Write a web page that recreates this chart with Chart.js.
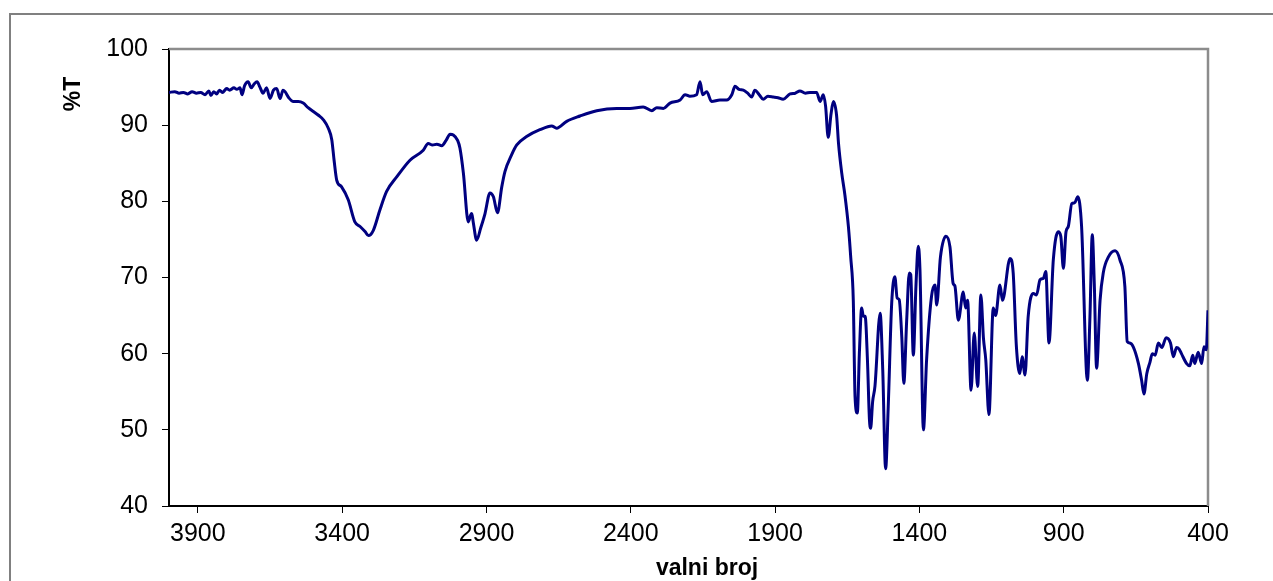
<!DOCTYPE html>
<html>
<head>
<meta charset="utf-8">
<script src="https://cdn.jsdelivr.net/npm/chart.js@4"></script>
<style>
  html, body { margin: 0; padding: 0; background: #fff; overflow: hidden; }
  #frame { position: absolute; left: 9px; top: 13px; width: 1270px; height: 600px; border: 2px solid #808080; box-sizing: border-box; }
  #wrap { position: absolute; left: 0; top: 0; width: 1273px; height: 581px; }
</style>
</head>
<body>
<div id="frame"></div>
<div id="wrap"><canvas id="ir"></canvas></div>
<script>
// wavenumber (cm-1), high to low
const wavenumbers = [
  4000, 3980, 3965, 3950, 3935, 3920, 3905, 3890, 3875, 3862, 3855, 3845, 3835, 3825, 3815,
  3800, 3790, 3775, 3765, 3754, 3747, 3738, 3726, 3715, 3705, 3695, 3685, 3674, 3662, 3650,
  3638, 3627, 3615, 3605, 3598, 3585, 3569, 3552, 3535, 3518, 3500, 3482, 3465, 3448, 3436,
  3428, 3419, 3402, 3379, 3356, 3338, 3320, 3309, 3292, 3269, 3246, 3211, 3165, 3119, 3102,
  3087, 3072, 3055, 3040, 3026, 3015, 3000, 2992, 2980, 2963, 2955, 2951, 2946, 2934, 2920,
  2905, 2888, 2876, 2862, 2847, 2836, 2813, 2795, 2761, 2715, 2674, 2657, 2622, 2576, 2518,
  2449, 2403, 2357, 2327, 2310, 2287, 2264, 2229, 2212, 2195, 2172, 2160, 2151, 2137, 2120,
  2091, 2068, 2050, 2039, 2025, 2010, 1995, 1981, 1970, 1955, 1941, 1925, 1906, 1890, 1872,
  1848, 1830, 1814, 1795, 1779, 1756, 1744, 1733, 1725, 1716, 1706, 1698, 1687, 1680, 1669,
  1658, 1646, 1638, 1629, 1623, 1615, 1608, 1600, 1594, 1588, 1580, 1573, 1569, 1562, 1554,
  1536, 1527, 1517, 1508, 1496, 1485, 1477, 1470, 1461, 1454, 1444, 1435, 1430, 1421, 1412,
  1404, 1398, 1386, 1375, 1358, 1346, 1340, 1327, 1308, 1294, 1283, 1277, 1265, 1248, 1240,
  1233, 1221, 1210, 1198, 1187, 1178, 1170, 1159, 1144, 1136, 1121, 1112, 1086, 1075, 1064,
  1052, 1044, 1034, 1023, 1005, 994, 982, 970, 962, 951, 936, 919, 910, 901, 892,
  884, 872, 862, 851, 838, 818, 809, 801, 794, 786, 774, 763, 745, 722, 705,
  688, 680, 671, 659, 641, 630, 622, 612, 601, 593, 583, 572, 560, 545, 530,
  520, 509, 500, 492, 474, 463, 453, 446, 434, 422, 414, 406, 400
];

// %T at each wavenumber
const transmittance = [
  94.3, 94.4, 94.2, 94.3, 94.1, 94.4, 94.2, 94.3, 94.0, 94.5, 93.9, 94.4, 94.1, 94.6, 94.3,
  94.8, 94.6, 94.9, 94.7, 94.9, 94.0, 95.2, 95.7, 94.9, 95.4, 95.7, 95.0, 94.2, 94.9, 93.5,
  94.6, 94.8, 93.5, 94.6, 94.4, 93.6, 93.1, 93.1, 92.9, 92.3, 91.8, 91.3, 90.7, 89.6, 88.1,
  85.4, 82.8, 81.9, 80.2, 77.3, 76.7, 76.0, 75.5, 76.2, 78.9, 81.3, 83.2, 85.4, 86.7, 87.6,
  87.4, 87.5, 87.3, 88.0, 88.8, 88.7, 88.0, 87.0, 83.7, 77.3, 78.2, 78.4, 77.3, 74.9, 76.5,
  78.4, 81.1, 80.6, 78.5, 81.9, 83.9, 86.1, 87.4, 88.5, 89.4, 89.9, 89.6, 90.5, 91.2, 91.9,
  92.2, 92.2, 92.4, 91.9, 92.3, 92.2, 92.9, 93.3, 94.0, 93.8, 94.0, 95.7, 94.0, 94.4, 93.1,
  93.3, 93.3, 94.0, 95.1, 94.7, 94.6, 94.2, 93.7, 94.6, 94.0, 93.4, 93.8, 93.7, 93.6, 93.4,
  94.1, 94.2, 94.5, 94.2, 94.3, 94.3, 93.1, 94.0, 92.5, 88.4, 91.5, 93.1, 91.3, 87.5, 83.7,
  80.8, 76.7, 72.7, 67.0, 54.4, 52.2, 60.0, 66.0, 64.9, 64.9, 59.2, 51.3, 50.2, 53.7, 55.7,
  65.3, 57.9, 44.9, 53.0, 66.6, 70.1, 67.3, 67.1, 62.2, 56.1, 64.4, 70.6, 70.4, 59.8, 68.8,
  74.1, 71.0, 50.0, 59.2, 67.5, 69.0, 66.4, 72.7, 75.4, 74.0, 69.2, 68.9, 64.4, 68.1, 66.0,
  67.0, 55.2, 62.7, 55.7, 67.7, 62.0, 59.2, 52.0, 66.0, 65.0, 69.0, 67.0, 72.5, 70.6, 61.0,
  57.4, 59.6, 57.2, 64.9, 67.9, 67.7, 69.7, 69.9, 70.8, 61.4, 72.3, 76.0, 75.4, 71.2, 76.0,
  76.7, 79.7, 79.8, 80.6, 76.7, 56.5, 64.9, 75.6, 69.2, 58.1, 67.0, 70.6, 72.7, 73.5, 72.3,
  68.8, 61.6, 61.4, 60.9, 58.7, 56.5, 54.7, 57.4, 58.9, 60.0, 59.8, 61.4, 60.8, 62.1, 61.4,
  59.6, 60.8, 60.6, 60.0, 58.7, 58.4, 59.8, 58.7, 60.2, 58.7, 60.9, 60.5, 65.7
];

const xTicks = [3900, 3400, 2900, 2400, 1900, 1400, 900, 400];
const yTicks = [40, 50, 60, 70, 80, 90, 100];

const FONT = "'Liberation Sans', Arial, sans-serif";

const points = wavenumbers.map((w, i) => ({ x: w, y: transmittance[i] }));

// gray plot-area border (top/right) and the two axis titles
const decor = {
  id: "decor",
  beforeDatasetsDraw(chart) {
    const { ctx, chartArea: a } = chart;
    ctx.save();
    ctx.strokeStyle = "#8c8c8c";
    ctx.lineWidth = 2.5;
    ctx.beginPath();
    ctx.moveTo(a.left, a.top);
    ctx.lineTo(a.right, a.top);
    ctx.lineTo(a.right, a.bottom);
    ctx.stroke();
    ctx.restore();
  },
  afterDraw(chart) {
    const { ctx } = chart;
    ctx.save();
    ctx.fillStyle = "#000";
    ctx.font = "bold 23px " + FONT;
    ctx.textAlign = "center";
    ctx.textBaseline = "alphabetic";
    ctx.fillText("valni broj", 707, 575);
    ctx.translate(80, 94);
    ctx.rotate(-Math.PI / 2);
    ctx.fillText("%T", 0, 0);
    ctx.restore();
  }
};

new Chart(document.getElementById("ir"), {
  type: "line",
  data: {
    datasets: [{
      data: points,
      borderColor: "#000080",
      borderWidth: 3,
      pointRadius: 0,
      cubicInterpolationMode: "monotone",
      borderJoinStyle: "round",
      fill: false
    }]
  },
  options: {
    responsive: true,
    maintainAspectRatio: false,
    animation: false,
    events: [],
    layout: { padding: { top: 49, right: 65, bottom: 0, left: 0 } },
    plugins: { legend: { display: false }, tooltip: { enabled: false } },
    scales: {
      x: {
        type: "linear",
        reverse: true,
        min: 400,
        max: 4000,
        afterBuildTicks: (s) => { s.ticks = xTicks.map(v => ({ value: v })); },
        afterFit: (s) => { s.height = 75; },
        border: { display: true, color: "#000", width: 2 },
        grid: { drawOnChartArea: false, drawTicks: true, tickLength: 7, color: "#000", lineWidth: 1 },
        ticks: {
          color: "#000",
          font: { family: FONT, size: 25 },
          padding: 6,
          maxRotation: 0,
          autoSkip: false,
          callback: (v) => String(v)
        }
      },
      y: {
        min: 40,
        max: 100,
        afterBuildTicks: (s) => { s.ticks = yTicks.map(v => ({ value: v })); },
        afterFit: (s) => { s.width = 169; },
        border: { display: true, color: "#000", width: 2 },
        grid: { drawOnChartArea: false, drawTicks: true, tickLength: 7, color: "#000", lineWidth: 1 },
        ticks: {
          color: "#000",
          font: { family: FONT, size: 25 },
          padding: 14,
          callback: (v) => String(v)
        }
      }
    }
  },
  plugins: [decor]
});
</script>
</body>
</html>
